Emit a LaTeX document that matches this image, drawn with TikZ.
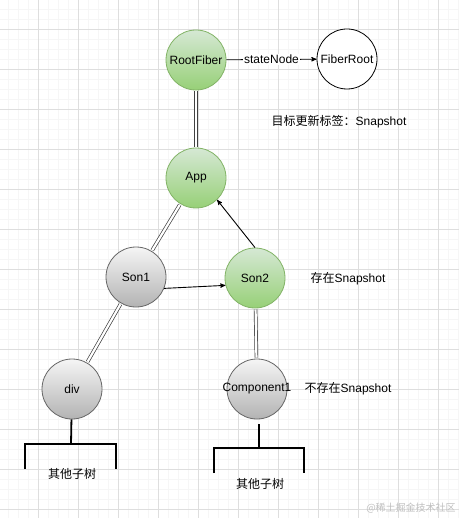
\documentclass[tikz,border=0pt]{standalone}
\usepackage{fontspec}
\setmainfont{Liberation Sans}
\newfontfamily\cjk{Noto Sans CJK SC}
\usepackage{tikz}
\usetikzlibrary{positioning,arrows}
\definecolor{mygreen}{RGB}{151,208,119}
\definecolor{mylightgreen}{RGB}{213,232,212}
\definecolor{mygreenline}{RGB}{130,179,102}
\definecolor{mygray}{RGB}{179,179,179}
\definecolor{mylightgray}{RGB}{245,245,245}
\definecolor{mygrayline}{RGB}{102,102,102}
\definecolor{minorgrid}{RGB}{246,246,246}
\definecolor{majorgrid}{RGB}{222,222,222}
\tikzset{
  basic/.style  = {circle, minimum size=60pt, inner sep=0pt, line width=0.8pt,
                   font=\fontsize{12}{14}\selectfont},
  fiber/.style  = {basic, draw=mygreenline, top color=mylightgreen,
                   bottom color=mygreen},
  plain/.style  = {basic, draw=mygrayline, top color=mylightgray,
                   bottom color=mygray},
  empty/.style  = {basic, draw=black, fill=white},
  note/.style   = {font=\fontsize{12}{14}\selectfont, inner sep=1pt},
  child/.style  = {-, draw=black!75, line width=0.7pt, double=white,
                   double distance=2.2pt, shorten <=1pt, shorten >=1pt},
  edge/.style   = {->, >=stealth', line width=0.9pt},
  tree/.style   = {-, line width=2.4pt},
  stem/.style   = {-, line width=1.8pt}
}

\begin{document}
\begin{tikzpicture}[x=1pt,y=-1pt,->,>=stealth']
  % background grid
  \fill[white] (0,0) rectangle (459,518);
  \useasboundingbox (0,0) rectangle (459,518);
  \foreach \x in {8,18,...,458}
    \draw[-,minorgrid,line width=0.8pt] (\x,0) -- (\x,518);
  \foreach \y in {9,19,...,518}
    \draw[-,minorgrid,line width=0.8pt] (0,\y) -- (459,\y);
  \foreach \x in {38,78,...,458}
    \draw[-,majorgrid,line width=0.8pt] (\x,0) -- (\x,518);
  \foreach \y in {29,69,...,518}
    \draw[-,majorgrid,line width=0.8pt] (0,\y) -- (459,\y);

  % fiber nodes
  \node[fiber] (rootfiber) at (196,60)  {RootFiber};
  \node[empty] (fiberroot) at (347,59)  {FiberRoot};
  \node[fiber] (app)       at (196,178) {App};
  \node[plain] (son1)      at (136,277) {Son1};
  \node[fiber] (son2)      at (255,278) {Son2};
  \node[plain] (div)       at (72,389)  {div};
  \node[plain] (comp)      at (257,389) {\makebox[0pt]{Component1}};

  % notes
  \node[note] (target)  at (339,122) {{\cjk 目标更新标签：}Snapshot};
  \node[note] (has)     at (348,279) {{\cjk 存在}Snapshot};
  \node[note] (hasnot)  at (348,389) {{\cjk 不存在}Snapshot};

  % links
  \draw[edge] (rootfiber) -- node[note, fill=white] {stateNode} (fiberroot);
  \draw[child] (rootfiber) -- (app);
  \draw[child] (app) -- (son1);
  \draw[child] (son1) -- (div);
  \draw[child] (son2) -- (comp);
  \draw[edge] (son1.-22) -- (son2.194);
  \draw[edge] (son2.north) -- (app.-46);

  % sub trees
  \coordinate (divtree) at (71,444);
  \coordinate (comptop) at (259,424);
  \coordinate (comptree) at (259,448);
  \draw[stem] (div) -- (divtree);
  \draw[tree] (25,469) -- (25,444) -- (116,444) -- (116,469);
  \node[note] (divrest) at (72,474) {\cjk 其他子树};
  \draw[stem] (comptop) -- (comptree);
  \draw[tree] (214,473) -- (214,448) -- (304,448) -- (304,473);
  \node[note] (comprest) at (260,484) {\cjk 其他子树};

  \node[note, text=black!25, font=\fontsize{10}{12}\selectfont] (mark)
    at (411,508) {{\cjk @稀土掘金技术社区}};
\end{tikzpicture}
\end{document}
